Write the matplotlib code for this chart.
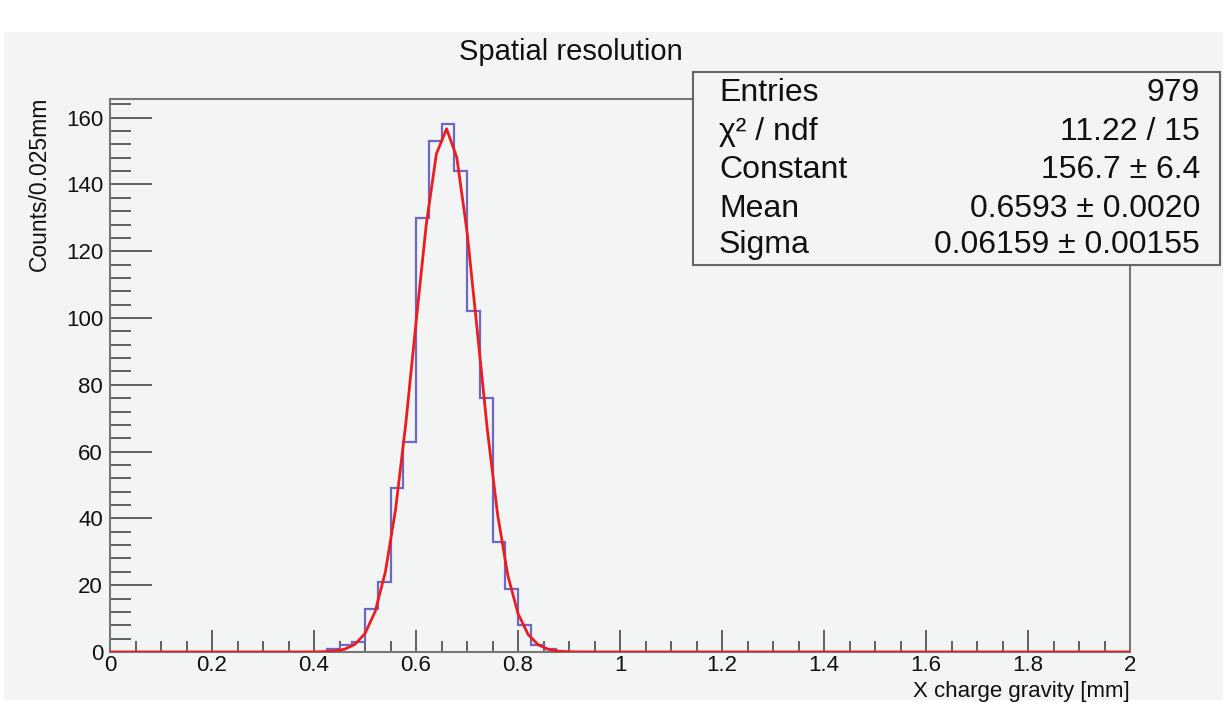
import numpy as np
import matplotlib
matplotlib.use("Agg")
import matplotlib.pyplot as plt
from matplotlib.patches import Rectangle
from matplotlib.ticker import MultipleLocator, FuncFormatter

plt.rcParams["font.family"] = ["Liberation Sans", "DejaVu Sans"]

# histogram: 80 bins of 0.025 mm over [0, 2], non-empty bins start at 0.425
x_min, x_max, n_bins = 0.0, 2.0, 80
first_bin = 17
peak_counts = [1, 2, 3, 13, 21, 49, 63, 130, 153, 158, 144, 102, 76, 33, 19, 8, 2, 1]

# gaus fit results from the stats box
fit_const, fit_mean, fit_sigma = 156.7, 0.6593, 0.06159
stats_names = ["Entries", "\u03c7\u00b2 / ndf", "Constant", "Mean", "Sigma"]
stats_values = ["979", "11.22 / 15", "156.7 \u00b1 6.4",
                "0.6593 \u00b1 0.0020", "0.06159 \u00b1 0.00155"]

W, H = 1223, 716
BG = "#f3f4f4"

fig = plt.figure(figsize=(W / 100, H / 100), dpi=100, facecolor="white")
fig.patches.append(Rectangle((4 / W, 1 - 700 / H), 1 - 4 / W, (700 - 32) / H,
                             transform=fig.transFigure, facecolor=BG,
                             edgecolor="none", zorder=0))

ax = fig.add_axes([110 / W, 1 - 652 / H, 1020 / W, 553 / H])
ax.set_zorder(1)
ax.set_facecolor(BG)

edges = np.linspace(x_min, x_max, n_bins + 1)
counts = np.zeros(n_bins)
counts[first_bin:first_bin + len(peak_counts)] = peak_counts
ax.stairs(counts, edges, color="#6a6ac4", linewidth=1.6, zorder=2)

# fit function drawn like ROOT's TF1 (100 points)
xf = np.linspace(x_min, x_max, 101)
yf = fit_const * np.exp(-0.5 * ((xf - fit_mean) / fit_sigma) ** 2)
ax.plot(xf, yf, color="#ee1c1c", linewidth=2, zorder=3)

ax.set_xlim(x_min, x_max)
ax.set_ylim(0, 165.6)

ax.xaxis.set_major_locator(MultipleLocator(0.2))
ax.xaxis.set_minor_locator(MultipleLocator(0.05))
ax.yaxis.set_major_locator(MultipleLocator(20))
ax.yaxis.set_minor_locator(MultipleLocator(4))
ax.xaxis.set_major_formatter(FuncFormatter(lambda v, p: f"{v:g}"))
ax.yaxis.set_major_formatter(FuncFormatter(lambda v, p: f"{v:g}"))

ax.tick_params(axis="both", which="both", direction="in", colors="#555555",
               labelcolor="#111111", labelsize=16, width=1.3)
ax.tick_params(axis="y", which="major", length=30, pad=5)
ax.tick_params(axis="y", which="minor", length=15)
ax.tick_params(axis="x", which="major", length=16, pad=2)
ax.tick_params(axis="x", which="minor", length=8)

for s in ax.spines.values():
    s.set_color("#777777")
    s.set_linewidth(1.5)

fig.text(571 / W, 1 - 52 / H, "Spatial resolution", ha="center", va="center",
         fontsize=21, color="#111111")
fig.text(39 / W, 1 - 97 / H, "Counts/0.025mm", rotation=90, ha="center",
         va="top", fontsize=16.5, color="#111111")
fig.text(1130 / W, 1 - 691 / H, "X charge gravity [mm]", ha="right",
         va="center", fontsize=16, color="#111111")

# stats box
fig.patches.append(Rectangle((693 / W, 1 - 265 / H), (1220 - 693) / W,
                             (265 - 72) / H, transform=fig.transFigure,
                             facecolor=BG, edgecolor="#666666",
                             linewidth=1.5, zorder=5))
row_y = [93, 132, 170, 209, 245]
for name, val, y in zip(stats_names, stats_values, row_y):
    fig.text(719 / W, 1 - y / H, name, ha="left", va="center",
             fontsize=23, color="#111111", zorder=6)
    fig.text(1200 / W, 1 - y / H, val, ha="right", va="center",
             fontsize=23, color="#111111", zorder=6)

fig.savefig("out.png", dpi=100, facecolor="white")
